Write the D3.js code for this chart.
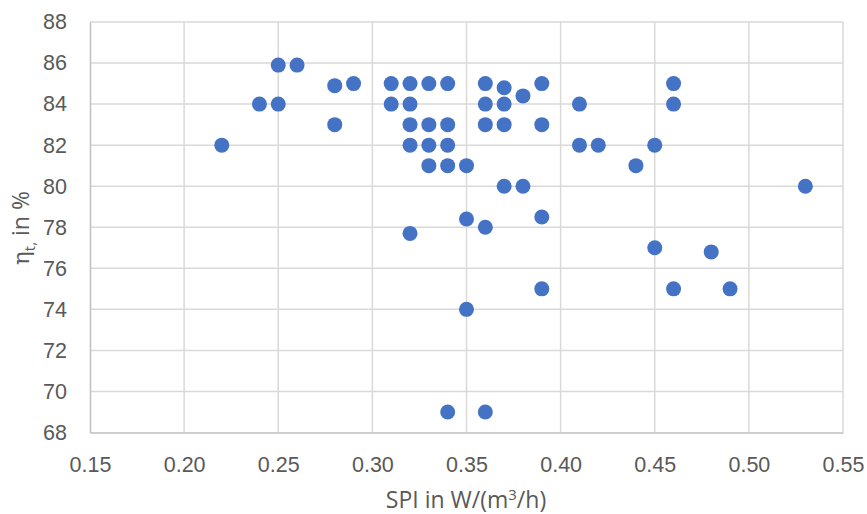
<!DOCTYPE html>
<html>
<head>
<meta charset="utf-8">
<script src="https://cdn.jsdelivr.net/npm/d3@7"></script>
<style>
  body { margin: 0; background: #fff; }
  svg { display: block; font-family: "Open Sans", sans-serif; }
  .tick text { fill: #595959; font-size: 21.5px; }
  .axis-title { fill: #595959; font-size: 23px; }
</style>
</head>
<body>
<svg id="chart" width="867" height="514"></svg>
<script>
const spi = [0.22, 0.24, 0.25, 0.25, 0.26, 0.28, 0.29, 0.28,
  0.31, 0.32, 0.33, 0.34, 0.31, 0.32, 0.32, 0.33, 0.34, 0.32, 0.33, 0.34, 0.33, 0.34, 0.35,
  0.36, 0.37, 0.39, 0.36, 0.37, 0.38, 0.36, 0.37, 0.39, 0.37, 0.38,
  0.41, 0.41, 0.42, 0.44, 0.45, 0.46, 0.46, 0.53,
  0.35, 0.36, 0.39, 0.32, 0.45, 0.48, 0.39, 0.46, 0.49, 0.35, 0.34, 0.36];
const eta = [82, 84, 84, 85.9, 85.9, 84.9, 85, 83,
  85, 85, 85, 85, 84, 84, 83, 83, 83, 82, 82, 82, 81, 81, 81,
  85, 84.8, 85, 84, 84, 84.4, 83, 83, 83, 80, 80,
  84, 82, 82, 81, 82, 85, 84, 80,
  78.4, 78, 78.5, 77.7, 77, 76.8, 75, 75, 75, 74, 69, 69];
const xTicks = [0.15, 0.20, 0.25, 0.30, 0.35, 0.40, 0.45, 0.50, 0.55];
const yTicks = [68, 70, 72, 74, 76, 78, 80, 82, 84, 86, 88];

const svg = d3.select('#chart');
const plotLeft = 90, plotRight = 843, plotTop = 22, plotBottom = 432.5;

const xScale = d3.scaleLinear().domain([0.15, 0.55]).range([plotLeft, plotRight]);
const yScale = d3.scaleLinear().domain([68, 88]).range([plotBottom, plotTop]);

// gridlines
svg.append('g')
  .selectAll('line')
  .data(xTicks.slice(1))
  .enter()
  .append('line')
  .attr('x1', d => xScale(d)).attr('x2', d => xScale(d))
  .attr('y1', plotTop).attr('y2', plotBottom)
  .attr('stroke', '#d9d9d9').attr('stroke-width', 1.5);

svg.append('g')
  .selectAll('line')
  .data(yTicks.slice(1))
  .enter()
  .append('line')
  .attr('x1', plotLeft).attr('x2', plotRight)
  .attr('y1', d => yScale(d)).attr('y2', d => yScale(d))
  .attr('stroke', '#d9d9d9').attr('stroke-width', 1.5);

// axes
const xAxis = svg.append('g')
  .attr('transform', `translate(0, ${plotBottom})`)
  .call(d3.axisBottom(xScale).tickValues(xTicks).tickFormat(d3.format('.2f')).tickSize(0).tickPadding(24));
xAxis.select('.domain').attr('stroke', '#bfbfbf').attr('stroke-width', 1.5);

const yAxis = svg.append('g')
  .attr('transform', `translate(${plotLeft}, 0)`)
  .call(d3.axisLeft(yScale).tickValues(yTicks).tickSize(0).tickPadding(23));
yAxis.select('.domain').attr('stroke', '#bfbfbf').attr('stroke-width', 1.5);

// points
svg.append('g')
  .selectAll('circle')
  .data(spi.map((s, i) => ({ x: s, y: eta[i] })))
  .enter()
  .append('circle')
  .attr('cx', d => xScale(d.x))
  .attr('cy', d => yScale(d.y))
  .attr('r', 7.5)
  .attr('fill', '#4472c4');

// axis titles
const xTitle = svg.append('text')
  .attr('class', 'axis-title')
  .attr('x', 466)
  .attr('y', 508)
  .attr('text-anchor', 'middle');
xTitle.append('tspan').text('SPI in W/(m');
xTitle.append('tspan').attr('dy', -8).style('font-size', '15px').text('3');
xTitle.append('tspan').attr('dy', 8).text('/h)');

const yTitle = svg.append('text')
  .attr('class', 'axis-title')
  .attr('transform', 'translate(29, 228) rotate(-90)')
  .attr('text-anchor', 'middle');
yTitle.append('tspan').style('font-family', '"DejaVu Serif", serif').style('font-size', '23px').text('η');
yTitle.append('tspan').attr('dy', 6).style('font-size', '15px').text('t,');
yTitle.append('tspan').attr('dy', -6).text(' in %');
</script>
</body>
</html>
